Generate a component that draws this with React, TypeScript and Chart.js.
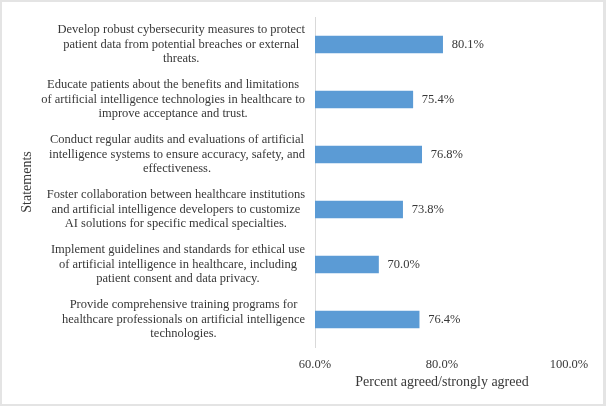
import React, { useEffect, useRef } from 'react';
import { Chart, registerables } from 'chart.js';

Chart.register(...registerables);

const categories: string[][] = [
  ['Develop robust cybersecurity measures to protect', 'patient data from potential breaches or external', 'threats.'],
  ['Educate patients about the benefits and limitations', 'of artificial intelligence technologies in healthcare to', 'improve acceptance and trust.'],
  ['Conduct regular audits and evaluations of artificial', 'intelligence systems to ensure accuracy, safety, and', 'effectiveness.'],
  ['Foster collaboration between healthcare institutions', 'and artificial intelligence developers to customize', 'AI solutions for specific medical specialties.'],
  ['Implement guidelines and standards for ethical use', 'of artificial intelligence in healthcare, including', 'patient consent and data privacy.'],
  ['Provide comprehensive training programs for', 'healthcare professionals on artificial intelligence', 'technologies.'],
];
const values: number[] = [80.1, 75.4, 76.8, 73.8, 70.0, 76.4];
const xMin = 60;
const xMax = 100;
const xStep = 20;
const xTitle = 'Percent agreed/strongly agreed';
const yTitle = 'Statements';

const FONT = "'Liberation Serif', 'Times New Roman', serif";
const TEXT = '#383838';
const BAR = '#5B9BD5';

const yLabelsPlugin = {
  id: 'yLabels',
  afterDraw(chart: any) {
    const ctx = chart.ctx;
    const y = chart.scales.y;
    const right = chart.chartArea.left - 10;
    const lh = 14.5;
    ctx.save();
    ctx.font = `12.5px ${FONT}`;
    ctx.fillStyle = TEXT;
    ctx.textAlign = 'center';
    ctx.textBaseline = 'middle';
    categories.forEach((lines, i) => {
      const cy = y.getPixelForValue(i);
      const widest = Math.max(...lines.map((l) => ctx.measureText(l).width));
      const cx = right - widest / 2;
      const y0 = cy - ((lines.length - 1) / 2) * lh;
      lines.forEach((l, j) => ctx.fillText(l, cx, y0 + j * lh));
    });
    ctx.restore();
  },
};

const valueLabelsPlugin = {
  id: 'valueLabels',
  afterDatasetsDraw(chart: any) {
    const ctx = chart.ctx;
    const meta = chart.getDatasetMeta(0);
    ctx.save();
    ctx.font = `12.5px ${FONT}`;
    ctx.fillStyle = TEXT;
    ctx.textAlign = 'left';
    ctx.textBaseline = 'middle';
    meta.data.forEach((bar: any, i: number) => {
      ctx.fillText(values[i].toFixed(1) + '%', bar.x + 9, bar.y);
    });
    ctx.restore();
  },
};

export default function App() {
  const ref = useRef<HTMLCanvasElement>(null);

  useEffect(() => {
    document.body.style.margin = '0';
    const chart = new Chart(ref.current as HTMLCanvasElement, {
      type: 'bar',
      data: {
        labels: categories.map((c) => c.join(' ')),
        datasets: [
          {
            data: values,
            backgroundColor: BAR,
            borderWidth: 0,
            barThickness: 17,
            base: xMin,
          } as any,
        ],
      },
      options: {
        indexAxis: 'y',
        animation: false,
        responsive: false,
        maintainAspectRatio: false,
        layout: { padding: { left: 15, top: 17, right: 37, bottom: 0 } },
        plugins: { legend: { display: false }, tooltip: { enabled: false } },
        scales: {
          x: {
            min: xMin,
            max: xMax,
            grid: { display: false, drawTicks: false },
            border: { display: false },
            ticks: {
              stepSize: xStep,
              padding: 10.5,
              color: TEXT,
              font: { family: FONT, size: 12.5 },
              callback: (v: any) => Number(v).toFixed(1) + '%',
            },
            title: {
              display: true,
              text: xTitle,
              color: TEXT,
              font: { family: FONT, size: 14 },
              padding: { top: 0, bottom: 15.6 },
            },
            afterFit: (s: any) => {
              s.height = 59;
            },
          },
          y: {
            grid: { display: false, drawTicks: false },
            border: { display: true, color: '#d9d9d9', width: 1 },
            ticks: { display: false },
            title: {
              display: true,
              text: yTitle,
              color: TEXT,
              font: { family: FONT, size: 14 },
              padding: { top: 4, bottom: 0 },
            },
            afterFit: (s: any) => {
              s.width = 300;
            },
          },
        },
      },
      plugins: [yLabelsPlugin, valueLabelsPlugin],
    });
    return () => chart.destroy();
  }, []);

  return (
    <div
      style={{
        position: 'relative',
        width: 606,
        height: 406,
        boxSizing: 'border-box',
        borderTop: '2px solid #e4e4e4',
        borderLeft: '2px solid #e4e4e4',
        borderRight: '3px solid #e4e4e4',
        borderBottom: '2px solid #e4e4e4',
        background: '#fff',
        overflow: 'hidden',
      }}
    >
      <canvas ref={ref} width={606} height={406} style={{ position: 'absolute', left: -2, top: -2, width: 606, height: 406 }} />
    </div>
  );
}
